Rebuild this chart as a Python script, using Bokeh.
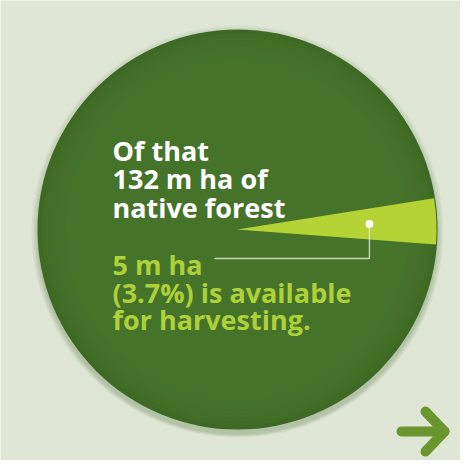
import math
from bokeh.plotting import figure
from bokeh.models import Range1d
from bokeh.core.properties import value
from bokeh.embed import file_html
from bokeh.resources import INLINE

# ---- data ----
total_label = ["Of that", "132 m ha of", "native forest"]
part_label = ["5 m ha", "(3.7%) is available", "for harvesting."]
total_mha = [132]
part_mha = [5]
part_pct = [3.7]
start_deg = [-4.3]

# ---- layout constants (page pixels -> data units, y up) ----
W = H = 460
cx, cy, R = 245, 239, 200

p = figure(width=W, height=H, x_range=Range1d(8, 468), y_range=Range1d(8, 468),
           output_backend="svg", toolbar_location=None, min_border=0)
p.axis.visible = False
p.grid.visible = False
p.outline_line_color = None
p.background_fill_color = "#dfe6d5"
p.border_fill_color = "#dfe6d5"

# soft shadow under the disc
for i, a in enumerate([0.05, 0.05, 0.05, 0.06, 0.07]):
    p.circle(x=[cx], y=[cy - 2 - i * 0.6], radius=R + 6 - i * 1.3,
             fill_color="#3d6a22", fill_alpha=a, line_color=None)

# disc with slightly darker rim
p.circle(x=[cx], y=[cy], radius=R, fill_color="#3e6925", line_color=None)
for k in range(1, 8):
    p.circle(x=[cx], y=[cy], radius=R - k * 4, fill_color="#4a782c",
             fill_alpha=0.22, line_color=None)

# wedge for available share
s = math.radians(start_deg[0])
e = s + 2 * math.pi * part_pct[0] / 100.0
p.wedge(x=[cx], y=[cy], radius=R - 1, start_angle=s, end_angle=e,
        fill_color="#b6d336", line_color=None)

# leader line and dot
mid = (s + e) / 2
dx = cx + 0.66 * R * math.cos(mid)
dy = cy + 0.66 * R * math.sin(mid)
elbow_y = 210
end_x = 222
p.line(x=[dx, dx, end_x], y=[dy, elbow_y, elbow_y], line_color="#e4ecd8",
       line_alpha=0.8, line_width=1.4)
p.circle(x=[dx], y=[dy], radius=4, fill_color="white", line_color=None)

# texts
tx = 120
white_base = [318, 290, 261]
green_base = [204, 176, 149]
p.text(x=[tx] * 3, y=white_base, text=total_label, text_color="white",
       text_font=value("Open Sans"), text_font_style="bold",
       text_font_size="27px", text_baseline="alphabetic")
p.text(x=[tx] * 3, y=green_base, text=part_label, text_color="#aed13a",
       text_font=value("Open Sans"), text_font_style="bold",
       text_font_size="27px", text_baseline="alphabetic")

# next arrow
ax0, ax1, ay = 409, 452, 37
p.line(x=[ax0, ax1], y=[ay, ay], line_color="#6a962f", line_width=10, line_cap="round")
p.line(x=[ax1 - 19, ax1, ax1 - 19], y=[ay + 20, ay, ay - 20], line_color="#6a962f",
       line_width=10, line_cap="round", line_join="round")

open("out.html", "w").write(file_html(p, INLINE))
